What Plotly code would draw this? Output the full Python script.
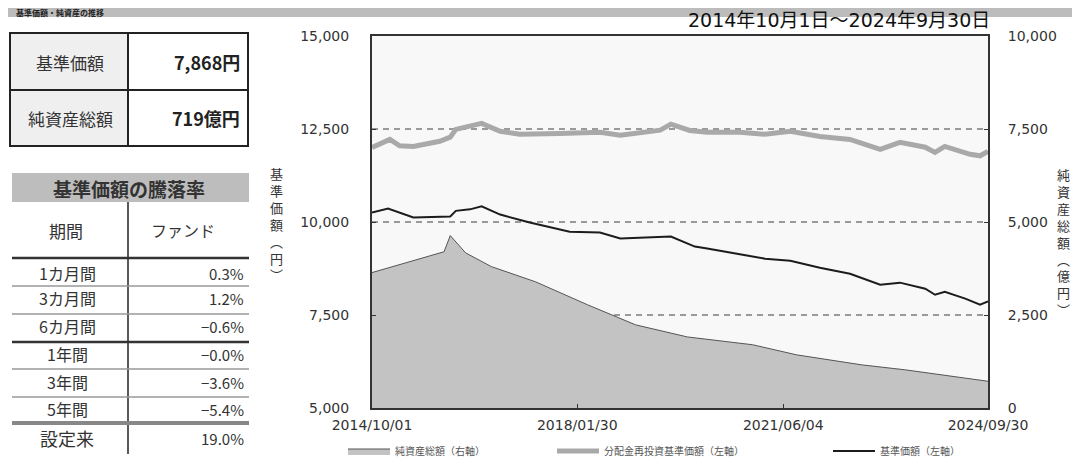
import plotly.graph_objects as go

# ---------------- data ----------------
nav_dates = ["2014-10-01", "2015-01-04", "2015-06-03", "2016-01-08", "2016-02-10", "2016-05-04",
             "2016-07-12", "2016-10-30", "2017-04-23", "2017-12-16", "2018-06-13", "2018-10-12",
             "2019-08-08", "2019-12-28", "2020-03-10", "2021-02-16", "2021-07-16", "2022-01-07",
             "2022-07-05", "2022-12-31", "2023-04-27", "2023-09-24", "2023-11-21", "2024-01-18",
             "2024-05-18", "2024-08-14", "2024-09-30"]
nav_values = [10255, 10360, 10120, 10150, 10300, 10340, 10420, 10200, 9985, 9740, 9716, 9555,
              9610, 9340, 9285, 9015, 8960, 8770, 8610, 8315, 8370, 8205, 8045, 8125, 7940, 7780, 7868]

reinv_dates = ["2014-10-01", "2015-01-15", "2015-03-14", "2015-06-03", "2015-11-07", "2016-01-08",
               "2016-02-10", "2016-05-04", "2016-07-12", "2016-10-30", "2017-02-23", "2017-10-19",
               "2018-06-13", "2018-10-12", "2019-06-06", "2019-08-08", "2019-11-28", "2020-03-10",
               "2020-09-19", "2021-02-16", "2021-07-16", "2022-01-07", "2022-07-05", "2022-12-31",
               "2023-04-27", "2023-09-24", "2023-11-21", "2024-01-18", "2024-06-16", "2024-08-14",
               "2024-09-30"]
reinv_values = [12000, 12220, 12050, 12030, 12170, 12280, 12490, 12570, 12650, 12440, 12360, 12380,
                12410, 12330, 12470, 12630, 12460, 12410, 12410, 12360, 12440, 12300, 12220, 11950,
                12140, 12010, 11870, 12030, 11820, 11780, 11900]

assets_dates = ["2014-10-01", "2015-04-13", "2015-08-18", "2015-12-02", "2016-01-08", "2016-04-08",
                "2016-09-08", "2017-05-26", "2018-04-01", "2019-01-11", "2019-11-14", "2020-12-05",
                "2021-08-21", "2022-09-12", "2023-05-30", "2024-09-30"]
assets_values = [3640, 3900, 4070, 4200, 4635, 4170, 3800, 3395, 2775, 2235, 1910, 1700,
                 1430, 1160, 1025, 719]

x_tick_vals = ["2014-10-01", "2018-01-30", "2021-06-04", "2024-09-30"]
x_tick_text = ["2014/10/01", "2018/01/30", "2021/06/04", "2024/09/30"]
left_ticks = [5000, 7500, 10000, 12500, 15000]
right_ticks = [0, 2500, 5000, 7500, 10000]

summary_labels = ["基準価額", "純資産総額"]
summary_values = ["7,868円", "719億円"]
period_labels = ["1カ月間", "3カ月間", "6カ月間", "1年間", "3年間", "5年間", "設定来"]
period_returns = ["0.3%", "1.2%", "−0.6%", "−0.0%", "−3.6%", "−5.4%", "19.0%"]

# ---------------- geometry helpers ----------------
# The page body has an 8px margin, so the figure is drawn 8px in from the
# top-left corner; all positions below are in screenshot pixels.
OFF = 8
W, H = 1080 - OFF, 463 - OFF
PL, PR, PT, PB = 372, 988, 36, 408   # plot area in screenshot pixels
FONT = "Noto Sans CJK JP"
NUMFONT = "DejaVu Sans, Noto Sans CJK JP"


def px(x):
    return (x - PL) / (PR - PL)


def py(y):
    return (PB - y) / (PB - PT)


fig = go.Figure()

fig.add_trace(go.Scatter(
    x=assets_dates, y=assets_values, yaxis="y", mode="lines", fill="tozeroy",
    fillcolor="#c3c3c3", line=dict(color="#555555", width=1),
    name="純資産総額（右軸）", legend="legend"))
fig.add_trace(go.Scatter(
    x=reinv_dates, y=reinv_values, yaxis="y2", mode="lines",
    line=dict(color="#a9a9a9", width=5),
    name="分配金再投資基準価額（左軸）", legend="legend2"))
fig.add_trace(go.Scatter(
    x=nav_dates, y=nav_values, yaxis="y2", mode="lines",
    line=dict(color="#1c1c1c", width=2),
    name="基準価額（左軸）", legend="legend3"))

shapes = []
annotations = []


def rect(x0, y0, x1, y1, fill=None, lw=0, lc="black"):
    shapes.append(dict(type="rect", xref="paper", yref="paper",
                       x0=px(x0), x1=px(x1), y0=py(y0), y1=py(y1),
                       fillcolor=fill if fill else "rgba(0,0,0,0)",
                       line=dict(width=lw, color=lc), layer="above"))


def line(x0, y0, x1, y1, lw=1, lc="black"):
    shapes.append(dict(type="line", xref="paper", yref="paper",
                       x0=px(x0), x1=px(x1), y0=py(y0), y1=py(y1),
                       line=dict(width=lw, color=lc), layer="above"))


def text(t, x, y, anchor="center", size=13, color="#222", bold=False, family=FONT):
    if bold:
        t = "<b>" + t + "</b>"
    annotations.append(dict(text=t, xref="paper", yref="paper", x=px(x), y=py(y),
                            xanchor=anchor, yanchor="middle", showarrow=False,
                            font=dict(family=family, size=size, color=color)))


# top title bar
rect(OFF, OFF - 2, 1090, OFF + 9, fill="#bcbcbc")
text("基準価額・純資産の推移", 14, OFF + 4.5, anchor="left", size=8, color="#222", bold=True)

# period text
text("2014年10月1日～2024年9月30日", 992, 20, anchor="right", size=19, color="#111",
     family=NUMFONT)

# summary table
rect(10, 33, 128, 146, fill="#efefef")
rect(10, 33, 248, 146, lw=2, lc="#222")
line(128, 33, 128, 146, lw=2, lc="#222")
line(10, 90, 248, 90, lw=2, lc="#222")
text(summary_labels[0], 70, 62, size=17, color="#333")
text(summary_labels[1], 70, 118, size=17, color="#333")
text(summary_values[0], 242, 62, anchor="right", size=18, bold=True)
text(summary_values[1], 242, 118, anchor="right", size=18, bold=True)

# returns table
rect(12, 173, 249, 202, fill="#bdbdbd")
text("基準価額の騰落率", 129, 188, size=19, bold=True, color="#333")
line(128, 202, 128, 454, lw=1.5, lc="#222")
text("期間", 66, 230, size=17, color="#333")
text("ファンド", 183, 230, size=16, color="#333")
line(12, 258, 249, 258, lw=2.5, lc="#333")
row_y = [273, 298, 326, 354, 382, 409, 438]
sep_y = [286, 314, 342, 369, 397, 423]
for i, (lab, val) in enumerate(zip(period_labels, period_returns)):
    text(lab, 67, row_y[i], size=18 if i == 6 else 16, color="#333")
    text(val, 246, row_y[i], anchor="right", size=15, color="#333")
for i, yy in enumerate(sep_y):
    if i == 2:
        line(12, yy, 249, yy, lw=2.5, lc="#333")
    elif i == 5:
        line(12, yy, 249, yy, lw=4, lc="#888")
    else:
        line(12, yy, 249, yy, lw=1.5, lc="#999")

# vertical axis titles (stacked characters)
text("基<br>準<br>価<br>額<br>︵<br>円<br>︶", 276, 224, size=13, color="#333")
text("純<br>資<br>産<br>総<br>額<br>︵<br>億<br>円<br>︶", 1063, 242, size=13, color="#333")

tickfont = dict(family=NUMFONT, size=14, color="#333")
legfont = dict(family=FONT, size=10, color="#555")

fig.update_layout(
    width=W, height=H,
    margin=dict(l=PL - OFF, r=W - (PR - OFF), t=PT - OFF, b=H - (PB - OFF), autoexpand=False),
    paper_bgcolor="white", plot_bgcolor="#f8f8f8",
    shapes=shapes, annotations=annotations,
    xaxis=dict(type="date", range=["2014-10-01", "2024-09-30"],
               tickvals=x_tick_vals, ticktext=x_tick_text,
               ticks="inside", ticklen=4, tickcolor="#333",
               showgrid=False, showline=True, linecolor="#333", linewidth=2,
               mirror=True, tickfont=tickfont, ticklabelstandoff=3, automargin=False),
    yaxis=dict(range=[0, 10000], side="right", tickvals=right_ticks,
               tickformat=",", ticks="inside", ticklen=4, tickcolor="#333",
               showgrid=True, gridcolor="#9a9a9a", griddash="6px,5px", gridwidth=1.5,
               zeroline=False, showline=True, linecolor="#333", linewidth=2,
               tickfont=tickfont, ticklabelstandoff=15, automargin=False),
    yaxis2=dict(range=[5000, 15000], side="left", overlaying="y", tickvals=left_ticks,
                tickformat=",", ticks="inside", ticklen=4, tickcolor="#333",
                showgrid=False, zeroline=False, showline=True, linecolor="#333",
                linewidth=2, tickfont=tickfont, ticklabelstandoff=18, automargin=False),
    legend=dict(orientation="h", x=px(343), y=py(451), xanchor="left", yanchor="middle",
                font=legfont, itemwidth=42, bgcolor="rgba(0,0,0,0)"),
    legend2=dict(orientation="h", x=px(552), y=py(451), xanchor="left", yanchor="middle",
                 font=legfont, itemwidth=42, bgcolor="rgba(0,0,0,0)"),
    legend3=dict(orientation="h", x=px(828), y=py(451), xanchor="left", yanchor="middle",
                 font=legfont, itemwidth=42, bgcolor="rgba(0,0,0,0)"),
    showlegend=True,
)

fig.write_html("out.html")
